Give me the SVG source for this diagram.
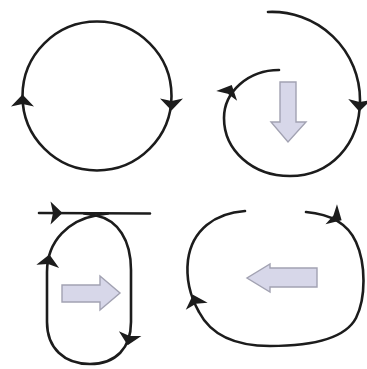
<svg xmlns="http://www.w3.org/2000/svg" xmlns:xlink="http://www.w3.org/1999/xlink" width="367" height="369" viewBox="0 0 367 369">
<style>
.loop{fill:none;stroke:#1c1c1c;stroke-width:2.6;stroke-linecap:round;stroke-linejoin:round}
.head{fill:#1c1c1c}
.block{fill:#d7d7e9;stroke:#a2a2b2;stroke-width:1.4;stroke-linejoin:miter}
</style>
<defs>
<path id="ah" d="M6.5,0 L-5.5,-11.5 L-3,0 L-5.5,11.5 Z"/>
</defs>
<rect width="367" height="369" fill="#ffffff"/>
<g id="connectors">
  <g id="loop1">
    <circle class="loop" cx="97" cy="96" r="74.5"/>
    <use href="#ah" xlink:href="#ah" class="head" transform="translate(22.5,101) rotate(-90)"/>
    <use href="#ah" xlink:href="#ah" class="head" transform="translate(171.5,104) rotate(90)"/>
  </g>
  <g id="loop2">
    <path class="loop" d="M268,12 A88,88 0 0 1 360,100 C360,145 330,176 290,176 C252,176 224,150 224,118 C224,92 248,70 279,70"/>
    <use href="#ah" xlink:href="#ah" class="head" transform="translate(229,91) rotate(-65)"/>
    <use href="#ah" xlink:href="#ah" class="head" transform="translate(359.5,105) rotate(92)"/>
  </g>
  <g id="loop3">
    <path class="loop" d="M39,213 L150,213.5"/>
    <path class="loop" d="M108,213.5 C104,214 100,214.5 96,215.5 C70,220 47,240 47,272 L47,322 C47,348 64,364 90,364 C116,364 131,348 131,322 L131,270 C131,240 118,220 96,215.5 C92,214.5 88,214 84,213.5"/>
    <use href="#ah" xlink:href="#ah" class="head" transform="translate(56,213) rotate(0)"/>
    <use href="#ah" xlink:href="#ah" class="head" transform="translate(48.5,261) rotate(-82)"/>
    <use href="#ah" xlink:href="#ah" class="head" transform="translate(129,339) rotate(102)"/>
  </g>
  <g id="loop4">
    <path class="loop" d="M306,212 C330,214 348,224 356,242 C366,264 366,298 356,318 C346,337 315,346 270,346 C236,346 211,335 199,312 C190,296 186,277 188,260 C192,230 215,213 245,211"/>
    <use href="#ah" xlink:href="#ah" class="head" transform="translate(336,217) rotate(30)"/>
    <use href="#ah" xlink:href="#ah" class="head" transform="translate(195,301) rotate(-108)"/>
  </g>
</g>
<g id="arrow-down">
  <path class="block" d="M280,82 L296,82 L296,122 L306,122 L288,142 L271,122 L280,122 Z"/>
</g>
<g id="arrow-right">
  <path class="block" d="M62,285 L100,285 L100,276 L120,293 L100,310 L100,302 L62,302 Z"/>
</g>
<g id="arrow-left">
  <path class="block" d="M317,268 L270,268 L270,264 L247,278 L270,292 L270,287 L317,287 Z"/>
</g>
</svg>
